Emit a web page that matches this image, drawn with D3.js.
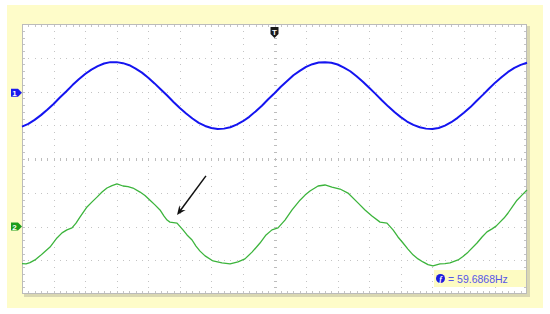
<!DOCTYPE html>
<html><head><meta charset="utf-8">
<script src="https://cdn.jsdelivr.net/npm/d3@7"></script>
<style>body{margin:0;background:#fff}svg{display:block}</style></head>
<body>
<svg id="c" width="550" height="314"></svg>
<script>
// time base (ms), 2.5 ms/div, 16 divisions
const timeMs = [0,0.5,1,1.5,2,2.5,3,3.5,4,4.5,5,5.5,6,6.5,7,7.5,8,8.5,9,9.5,10,10.5,11,11.5,12,12.5,13,13.5,14,14.5,15,15.5,16,16.5,17,17.5,18,18.5,19,19.5,20,20.5,21,21.5,22,22.5,23,23.5,24,24.5,25,25.5,26,26.5,27,27.5,28,28.5,29,29.5,30,30.5,31,31.5,32,32.5,33,33.5,34,34.5,35,35.5,36,36.5,37,37.5,38,38.5,39,39.5,40];
// channel 1 (divisions)
const ch1Volts = [0.96,1.04,1.16,1.30,1.46,1.63,1.82,2.00,2.19,2.36,2.52,2.65,2.75,2.83,2.87,2.87,2.84,2.78,2.68,2.56,2.41,2.24,2.06,1.88,1.69,1.51,1.35,1.20,1.07,0.98,0.92,0.89,0.90,0.94,1.02,1.12,1.25,1.41,1.58,1.77,1.95,2.14,2.31,2.48,2.61,2.73,2.81,2.86,2.87,2.85,2.80,2.71,2.60,2.45,2.29,2.11,1.93,1.74,1.56,1.39,1.24,1.11,1.01,0.94,0.90,0.89,0.92,0.99,1.09,1.22,1.37,1.53,1.72,1.90,2.09,2.27,2.43,2.58,2.70,2.79,2.85];
// channel 2 (read points)
const ch2Time = [0,0.32,0.63,1.03,1.43,1.82,2.22,2.77,3.17,3.56,3.96,4.28,4.59,5.15,5.55,5.94,6.34,6.73,7.13,7.52,8.00,8.40,8.79,9.35,9.74,10.14,10.53,10.93,11.25,11.49,11.72,12.28,12.75,13.07,13.47,13.78,14.10,14.50,15.13,15.84,16.48,17.11,17.66,18.22,18.85,19.33,19.80,20.28,20.83,21.39,22.02,22.42,22.81,23.45,24.00,24.55,25.19,25.82,26.61,27.17,27.72,28.36,28.91,29.39,29.78,30.18,30.57,30.97,31.37,31.76,32.16,32.55,33.11,33.50,33.90,34.54,34.93,35.33,36.04,36.44,36.83,37.23,37.55,37.86,38.18,38.50,38.89,39.21,39.60,40.00];
const ch2Volts = [-3.10,-3.11,-3.07,-2.99,-2.87,-2.74,-2.61,-2.34,-2.19,-2.10,-2.04,-1.90,-1.72,-1.42,-1.27,-1.13,-0.98,-0.86,-0.79,-0.74,-0.80,-0.82,-0.86,-0.98,-1.08,-1.22,-1.36,-1.51,-1.69,-1.81,-1.87,-1.90,-2.10,-2.25,-2.40,-2.58,-2.73,-2.87,-3.02,-3.08,-3.11,-3.05,-2.96,-2.76,-2.49,-2.25,-2.10,-2.04,-1.81,-1.51,-1.22,-1.07,-0.95,-0.80,-0.77,-0.83,-0.89,-1.01,-1.30,-1.51,-1.69,-1.87,-1.90,-2.10,-2.31,-2.49,-2.67,-2.84,-2.96,-3.05,-3.13,-3.17,-3.11,-3.10,-3.08,-2.99,-2.89,-2.76,-2.49,-2.31,-2.16,-2.07,-1.99,-1.87,-1.75,-1.60,-1.39,-1.22,-1.07,-0.92];
const channelNames = ["1","2"];
const channelOffsets = [1.96, -2.0];
const triggerTime = 20;
const freqText = "= 59.6868Hz";
const arrowFrom = [14.57, -0.50];
const arrowTo = [12.28, -1.66];

const svg = d3.select("#c");
const L=22, R=527, T=24, B=294;
const x = d3.scaleLinear([0,40],[L,R]);
const y = d3.scaleLinear([-4,4],[B,T]);

// backgrounds
svg.append("rect").attr("x",7).attr("y",5).attr("width",536).attr("height",303).attr("fill","#fefcc9");
svg.append("rect").attr("x",L+2).attr("y",T+2).attr("width",R-L+1).attr("height",B-T+1).attr("fill","#d9d7b2");
svg.append("rect").attr("x",L).attr("y",T).attr("width",R-L).attr("height",B-T).attr("fill","#fff");

const g = svg.append("g");
const xMaj = d3.range(1,16).map(i=>i*2.5);
const yMaj = d3.range(-3,4);
const xMin = d3.range(1,80).map(i=>i*0.5);
const yMin = d3.range(-19,20).map(i=>i*0.2);
const dotC = "#c4c4c4";
// dots along vertical grid lines
xMaj.filter(v=>v!==20).forEach(xv=>{
  g.selectAll(null).data(yMin).join("rect")
   .attr("x",Math.round(x(xv))).attr("y",d=>Math.round(y(d))).attr("width",1).attr("height",1).attr("fill",dotC);
});
// dots along horizontal grid lines
yMaj.filter(v=>v!==0).forEach(yv=>{
  g.selectAll(null).data(xMin).join("rect")
   .attr("x",d=>Math.round(x(d))).attr("y",Math.round(y(yv))).attr("width",1).attr("height",1).attr("fill",dotC);
});
// center crosshair ticks
const cx = Math.round(x(20)), cy = Math.round(y(0));
g.selectAll(null).data(xMin).join("rect")
  .attr("x",d=>Math.round(x(d))).attr("y",cy-1).attr("width",1).attr("height",3).attr("fill","#bdbdbd");
g.selectAll(null).data(yMin).join("rect")
  .attr("x",cx-1).attr("y",d=>Math.round(y(d))).attr("width",3).attr("height",1).attr("fill","#bdbdbd");
// border ticks
g.selectAll(null).data(xMin).join("rect").attr("x",d=>Math.round(x(d))).attr("y",T).attr("width",1).attr("height",3).attr("fill","#c4c4c4");
g.selectAll(null).data(xMin).join("rect").attr("x",d=>Math.round(x(d))).attr("y",B-3).attr("width",1).attr("height",3).attr("fill","#c4c4c4");
g.selectAll(null).data(yMin).join("rect").attr("x",L).attr("y",d=>Math.round(y(d))).attr("width",3).attr("height",1).attr("fill","#c4c4c4");
g.selectAll(null).data(yMin).join("rect").attr("x",R-3).attr("y",d=>Math.round(y(d))).attr("width",3).attr("height",1).attr("fill","#c4c4c4");
// border
svg.append("rect").attr("x",L+0.5).attr("y",T+0.5).attr("width",R-L-1).attr("height",B-T-1)
  .attr("fill","none").attr("stroke","#bbbbbb");

// traces
const line = d3.line().x(d=>x(d[0])).y(d=>y(d[1]));
svg.append("path").datum(d3.zip(timeMs,ch1Volts)).attr("d",line)
  .attr("fill","none").attr("stroke","#1414f0").attr("stroke-width",2).attr("stroke-linejoin","round");
svg.append("path").datum(d3.zip(ch2Time,ch2Volts)).attr("d",line)
  .attr("fill","none").attr("stroke","#3cb43c").attr("stroke-width",1.3).attr("stroke-linejoin","round");

// channel markers
const chColors = ["#1a1aee","#1c9c1c"];
channelNames.forEach((n,i)=>{
  const yy = y(channelOffsets[i]);
  svg.append("path").attr("d",`M${L-11},${yy-4}h7l4,4l-4,4h-7z`).attr("fill",chColors[i]);
  svg.append("text").attr("x",L-7.5).attr("y",yy+3).attr("text-anchor","middle")
    .attr("font-family","Liberation Sans, Arial, sans-serif").attr("font-size",8).attr("font-weight","bold")
    .attr("fill","#fff").text(n);
});
// trigger marker
const tx = x(triggerTime);
svg.append("path").attr("d",`M${tx-4},${T+3}h8v7l-4,4l-4,-4z`).attr("fill","#1a1a1a");
svg.append("text").attr("x",tx).attr("y",T+11).attr("text-anchor","middle")
  .attr("font-family","Liberation Sans, Arial, sans-serif").attr("font-size",8).attr("font-weight","bold")
  .attr("fill","#fff").text("T");

// frequency readout
svg.append("rect").attr("x",434).attr("y",270).attr("width",R-1-434).attr("height",17).attr("fill","#fdfbc2");
svg.append("circle").attr("cx",440.5).attr("cy",278.5).attr("r",4.5).attr("fill","#1c1ce0");
svg.append("text").attr("x",440.5).attr("y",281.5).attr("text-anchor","middle")
  .attr("font-family","Liberation Serif, serif").attr("font-size",8).attr("font-style","italic").attr("font-weight","bold")
  .attr("fill","#fff").text("f");
svg.append("text").attr("x",448).attr("y",282.5)
  .attr("font-family","Liberation Sans, Arial, sans-serif").attr("font-size",10.5)
  .attr("fill","#5656e8").text(freqText);

// arrow annotation
const ax1=x(arrowFrom[0]), ay1=y(arrowFrom[1]), ax2=x(arrowTo[0]), ay2=y(arrowTo[1]);
const ang = Math.atan2(ay2-ay1, ax2-ax1);
const hl = 10, hw = 0.4;
svg.append("line").attr("x1",ax1).attr("y1",ay1).attr("x2",ax2-Math.cos(ang)*5).attr("y2",ay2-Math.sin(ang)*5)
  .attr("stroke","#111").attr("stroke-width",1.5);
const p1=[ax2-hl*Math.cos(ang-hw), ay2-hl*Math.sin(ang-hw)];
const p2=[ax2-hl*Math.cos(ang+hw), ay2-hl*Math.sin(ang+hw)];
const pm=[ax2-6*Math.cos(ang), ay2-6*Math.sin(ang)];
svg.append("path").attr("d",`M${ax2},${ay2}L${p1}L${pm}L${p2}Z`).attr("fill","#111");
</script>
</body></html>
